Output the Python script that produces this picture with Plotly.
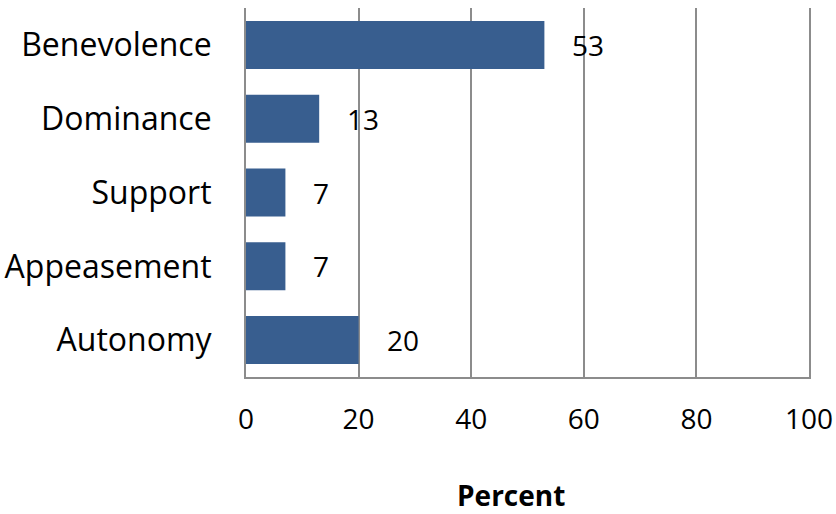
import plotly.graph_objects as go

categories = ["Benevolence", "Dominance", "Support", "Appeasement", "Autonomy"]
percent = [53, 13, 7, 7, 20]
x_ticks = [0, 20, 40, 60, 80, 100]

BAR_COLOR = "#385E8F"
GRID_COLOR = "#8C8C8C"
FONT = "Open Sans"

# plot area in pixels
W, H = 836, 514
ML, MR, MT, MB = 246, 27, 8, 137
plot_w = W - ML - MR
plot_h = H - MT - MB

fig = go.Figure(
    go.Bar(
        x=percent,
        y=categories,
        orientation="h",
        marker=dict(color=BAR_COLOR, line=dict(width=0)),
        width=0.65,
        hoverinfo="skip",
    )
)

# value labels placed just past the end of each bar
for cat, val in zip(categories, percent):
    fig.add_annotation(
        x=val, y=cat, text=str(val), showarrow=False,
        xanchor="left", yanchor="middle", xshift=26,
        font=dict(family=FONT, size=28, color="#000000"),
    )

# axis title, set slightly left of the plot centre
fig.add_annotation(
    x=(511 - ML) / plot_w, y=(H - MB - 495) / plot_h,
    xref="paper", yref="paper", text="<b>Percent</b>",
    showarrow=False, xanchor="center", yanchor="middle",
    font=dict(family=FONT, size=28, color="#000000"),
)

fig.update_layout(
    width=W, height=H,
    margin=dict(l=ML, r=MR, t=MT, b=MB),
    paper_bgcolor="white", plot_bgcolor="white",
    showlegend=False,
    font=dict(family=FONT, size=32, color="#000000"),
)

fig.update_xaxes(
    range=[0, 100], tickvals=x_ticks, ticktext=[str(t) for t in x_ticks],
    showgrid=True, gridcolor=GRID_COLOR, gridwidth=2,
    showline=True, linecolor=GRID_COLOR, linewidth=2,
    zeroline=False, ticks="", ticklabelstandoff=16, automargin=False,
    tickfont=dict(family=FONT, size=28, color="#000000"),
)
fig.update_yaxes(
    categoryorder="array", categoryarray=categories, autorange="reversed",
    showgrid=False, showline=True, linecolor=GRID_COLOR, linewidth=2,
    mirror=True, ticks="", ticklabelstandoff=26, automargin=False,
    tickfont=dict(family=FONT, size=32, color="#000000"),
)

fig.write_html("out.html")
